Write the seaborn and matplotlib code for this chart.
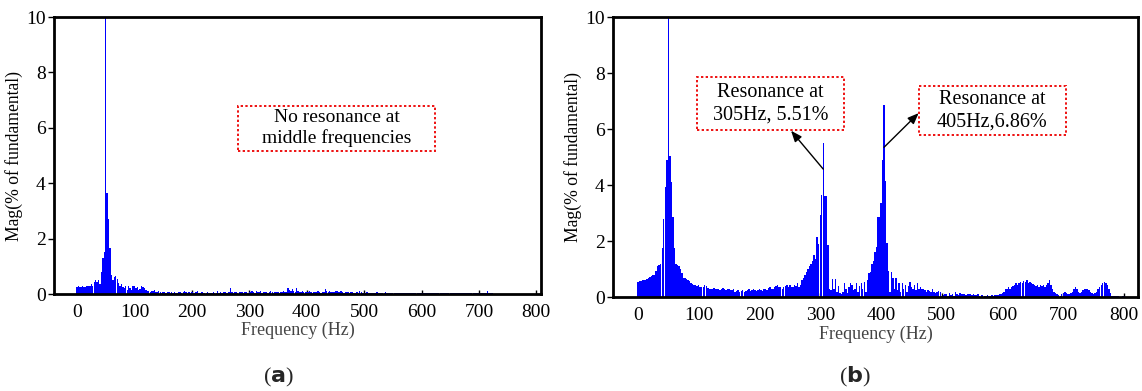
import numpy as np
import pandas as pd
import matplotlib
matplotlib.use("Agg")
import matplotlib.pyplot as plt
from matplotlib.patches import Rectangle
import seaborn as sns

# Harmonic spectrum, 2.5 Hz bins from 0 to 800 Hz (magnitude in % of fundamental)
freq_step = 2.5
freq_max = 800

# (a) no resonance at middle frequencies
mag_a = [
    0.25, 0.28, 0.27, 0.26, 0.28, 0.25, 0.27, 0.30, 0.28, 0.30, 0.35, 0.30, 0.42, 0.50, 0.45, 0.50, 0.35, 0.80, 1.30, 1.50,
    100.0, 3.65, 2.70, 1.65, 0.70, 0.50, 0.60, 0.65, 0.55, 0.40, 0.30, 0.35, 0.25, 0.20, 0.30, 0.15, 0.28, 0.20, 0.15, 0.30,
    0.30, 0.20, 0.25, 0.15, 0.18, 0.28, 0.25, 0.20, 0.15, 0.12, 0.10, 0.08, 0.12, 0.10, 0.15, 0.08, 0.06, 0.10, 0.08, 0.05,
    0.08, 0.06, 0.05, 0.08, 0.06, 0.05, 0.07, 0.05, 0.06, 0.04, 0.05, 0.06, 0.08, 0.05, 0.06, 0.10, 0.07, 0.05, 0.06, 0.05,
    0.08, 0.05, 0.04, 0.06, 0.10, 0.05, 0.04, 0.06, 0.03, 0.05, 0.04, 0.08, 0.05, 0.03, 0.04, 0.06, 0.05, 0.04, 0.10, 0.05,
    0.06, 0.04, 0.08, 0.06, 0.05, 0.04, 0.07, 0.20, 0.06, 0.05, 0.08, 0.06, 0.05, 0.07, 0.06, 0.08, 0.05, 0.06, 0.07, 0.05,
    0.08, 0.06, 0.10, 0.07, 0.05, 0.12, 0.08, 0.06, 0.10, 0.05, 0.07, 0.06, 0.08, 0.05, 0.06, 0.10, 0.07, 0.05, 0.08, 0.06,
    0.07, 0.05, 0.08, 0.06, 0.12, 0.06, 0.08, 0.22, 0.15, 0.12, 0.18, 0.10, 0.08, 0.20, 0.10, 0.08, 0.06, 0.10, 0.08, 0.07,
    0.08, 0.06, 0.10, 0.07, 0.05, 0.08, 0.06, 0.08, 0.10, 0.06, 0.05, 0.08, 0.06, 0.18, 0.12, 0.08, 0.10, 0.07, 0.08, 0.06,
    0.10, 0.12, 0.08, 0.06, 0.10, 0.07, 0.05, 0.08, 0.06, 0.07, 0.05, 0.06, 0.08, 0.05, 0.04, 0.06, 0.05, 0.10, 0.06, 0.04,
    0.05, 0.04, 0.06, 0.03, 0.05, 0.04, 0.03, 0.05, 0.04, 0.06, 0.03, 0.04, 0.05, 0.03, 0.04, 0.06, 0.03, 0.05, 0.04, 0.03,
    0.04, 0.03, 0.05, 0.02, 0.04, 0.03, 0.02, 0.04, 0.03, 0.02, 0.03, 0.04, 0.02, 0.03, 0.02, 0.04, 0.03, 0.02, 0.03, 0.05,
    0.04, 0.03, 0.02, 0.03, 0.02, 0.04, 0.02, 0.03, 0.05, 0.02, 0.03, 0.02, 0.02, 0.03, 0.02, 0.02, 0.03, 0.02, 0.02, 0.02,
    0.02, 0.02, 0.03, 0.02, 0.02, 0.02, 0.03, 0.02, 0.02, 0.02, 0.02, 0.03, 0.02, 0.02, 0.02, 0.02, 0.02, 0.02, 0.02, 0.02,
    0.02, 0.02, 0.02, 0.02, 0.02, 0.02, 0.12, 0.02, 0.02, 0.02, 0.01, 0.01, 0.01, 0.01, 0.01, 0.01, 0.01, 0.01, 0.01, 0.01,
    0.01, 0.01, 0.01, 0.01, 0.01, 0.01, 0.01, 0.01, 0.01, 0.01, 0.01, 0.01, 0.01, 0.01, 0.01, 0.01, 0.01, 0.01, 0.01, 0.01,
    0.00,
]

# (b) resonances at 305 Hz and 405 Hz
mag_b = [
    0.55, 0.56, 0.58, 0.60, 0.60, 0.62, 0.65, 0.68, 0.72, 0.76, 0.80, 0.80, 0.95, 1.10, 1.15, 1.20, 1.75, 2.80, 3.95, 4.90,
    100.0, 5.05, 4.10, 2.85, 1.75, 1.20, 1.15, 1.10, 1.00, 0.85, 0.70, 0.70, 0.66, 0.62, 0.58, 0.50, 0.48, 0.45, 0.42, 0.40,
    0.42, 0.38, 0.36, 0.35, 0.45, 0.40, 0.34, 0.30, 0.28, 0.30, 0.32, 0.28, 0.30, 0.30, 0.27, 0.30, 0.32, 0.28, 0.26, 0.30,
    0.28, 0.26, 0.25, 0.30, 0.20, 0.22, 0.25, 0.20, 0.22, 0.25, 0.20, 0.22, 0.25, 0.28, 0.22, 0.24, 0.28, 0.25, 0.22, 0.25,
    0.28, 0.25, 0.22, 0.28, 0.30, 0.25, 0.32, 0.35, 0.30, 0.28, 0.38, 0.40, 0.45, 0.38, 0.35, 0.30, 0.35, 0.40, 0.42, 0.38,
    0.42, 0.38, 0.35, 0.45, 0.40, 0.50, 0.38, 0.42, 0.62, 0.70, 0.80, 0.90, 1.00, 1.10, 1.20, 1.30, 1.50, 1.35, 2.15, 1.90,
    2.95, 3.65, 5.51, 3.60, 3.60, 1.85, 0.30, 0.25, 0.65, 0.30, 0.65, 0.20, 0.40, 0.15, 0.10, 0.20, 0.50, 0.30, 0.15, 0.35,
    0.50, 0.45, 0.25, 0.30, 0.50, 0.20, 0.40, 0.50, 0.30, 0.55, 0.20, 0.60, 0.85, 0.90, 1.20, 1.30, 1.60, 1.80, 2.85, 2.85,
    3.35, 4.90, 6.86, 4.15, 1.95, 0.95, 0.20, 0.90, 0.70, 0.30, 0.70, 0.25, 0.50, 0.20, 0.50, 0.30, 0.45, 0.20, 0.40, 0.55,
    0.35, 0.30, 0.45, 0.25, 0.50, 0.30, 0.35, 0.28, 0.30, 0.25, 0.20, 0.25, 0.22, 0.20, 0.28, 0.20, 0.15, 0.20, 0.22, 0.20,
    0.05, 0.08, 0.10, 0.12, 0.05, 0.15, 0.08, 0.10, 0.05, 0.20, 0.12, 0.08, 0.15, 0.10, 0.12, 0.10, 0.08, 0.10, 0.12, 0.10,
    0.08, 0.10, 0.06, 0.08, 0.10, 0.05, 0.08, 0.06, 0.04, 0.05, 0.06, 0.04, 0.05, 0.06, 0.05, 0.08, 0.06, 0.08, 0.10, 0.12,
    0.15, 0.20, 0.30, 0.30, 0.35, 0.30, 0.38, 0.40, 0.45, 0.50, 0.45, 0.52, 0.55, 0.50, 0.58, 0.55, 0.60, 0.50, 0.55, 0.50,
    0.48, 0.45, 0.40, 0.42, 0.38, 0.45, 0.40, 0.42, 0.35, 0.45, 0.50, 0.60, 0.45, 0.30, 0.20, 0.15, 0.10, 0.08, 0.05, 0.10,
    0.15, 0.20, 0.15, 0.10, 0.12, 0.15, 0.20, 0.30, 0.35, 0.30, 0.20, 0.15, 0.20, 0.25, 0.28, 0.30, 0.30, 0.25, 0.20, 0.15,
    0.12, 0.15, 0.20, 0.28, 0.35, 0.45, 0.50, 0.55, 0.50, 0.42, 0.30, 0.15, 0.05, 0.03, 0.05, 0.05, 0.03, 0.02, 0.02, 0.03,
    0.05,
]

x_ticks = [0, 100, 200, 300, 400, 500, 600, 700, 800]
y_ticks = [0, 2, 4, 6, 8, 10]

sns.set_theme(style="white")
plt.rcParams["font.family"] = ["Liberation Serif", "DejaVu Serif"]
plt.rcParams["mathtext.fontset"] = "custom"
plt.rcParams["mathtext.bf"] = "DejaVu Sans:bold"

freqs = np.arange(0, freq_max + freq_step / 2, freq_step)
df_a = pd.DataFrame({"freq": freqs, "mag": mag_a})
df_b = pd.DataFrame({"freq": freqs, "mag": mag_b})
bin_range = (freqs[0] - freq_step / 2, freqs[-1] + freq_step / 2)

fig = plt.figure(figsize=(11.42, 3.91), dpi=100)
ax_a = fig.add_axes([0.0473, 0.248, 0.4264, 0.7085])
ax_b = fig.add_axes([0.5368, 0.240, 0.4597, 0.7165])

blue = "#0000FF"

for ax, df, xlim in [(ax_a, df_a, (-40, 808)), (ax_b, df_b, (-41, 823))]:
    sns.histplot(data=df, x="freq", weights="mag", binwidth=freq_step,
                 binrange=bin_range, ax=ax, color=blue, alpha=1.0,
                 linewidth=0, shrink=0.95)
    ax.set_xlim(*xlim)
    ax.set_ylim(0, 10)
    ax.set_xticks(x_ticks)
    ax.set_yticks(y_ticks)
    ax.tick_params(axis="both", labelsize=14, colors="black")
    ax.tick_params(axis="y", direction="out", length=4, width=1, left=True, pad=2)
    ax.tick_params(axis="x", direction="in", length=3, width=1, bottom=True, pad=7)
    for s in ax.spines.values():
        s.set_color("black")
        s.set_linewidth(2.0)
    ax.set_xlabel("Frequency (Hz)", fontsize=13, color="#444444", labelpad=1)
    ax.set_ylabel("Mag(% of fundamental)", fontsize=12.7, color="black", labelpad=2)


def note(ax, x0, x1, y0, y1, text, size):
    # red dotted frame with centred two-line label
    ax.add_patch(Rectangle((x0, y0), x1 - x0, y1 - y0, facecolor="white",
                           edgecolor="#EE1111", linestyle=(0, (1.2, 1.2)),
                           linewidth=1.4, zorder=4))
    ax.text((x0 + x1) / 2, (y0 + y1) / 2, text, ha="center", va="center",
            fontsize=size, color="black", linespacing=1.25, zorder=5)


note(ax_a, 280, 624, 5.18, 6.80, "No resonance at\nmiddle frequencies", 14)
note(ax_b, 98, 339, 5.96, 7.86, "Resonance at\n305Hz, 5.51%", 14.5)
note(ax_b, 462, 705, 5.79, 7.54, "Resonance at\n405Hz,6.86%", 14.5)

arrow = dict(arrowstyle="-|>,head_length=0.55,head_width=0.22", color="black",
             linewidth=1.0, shrinkA=0, shrinkB=0)
ax_b.annotate("", xy=(252, 5.94), xytext=(305, 4.57), arrowprops=arrow, zorder=6)
ax_b.annotate("", xy=(462, 6.57), xytext=(405, 5.35), arrowprops=arrow, zorder=6)

# panel captions
fig.text(0.2435, 0.035, r"(${\bf a}$)", ha="center", va="center", fontsize=16)
fig.text(0.7487, 0.035, r"(${\bf b}$)", ha="center", va="center", fontsize=16)

fig.savefig("out.png", dpi=100)
